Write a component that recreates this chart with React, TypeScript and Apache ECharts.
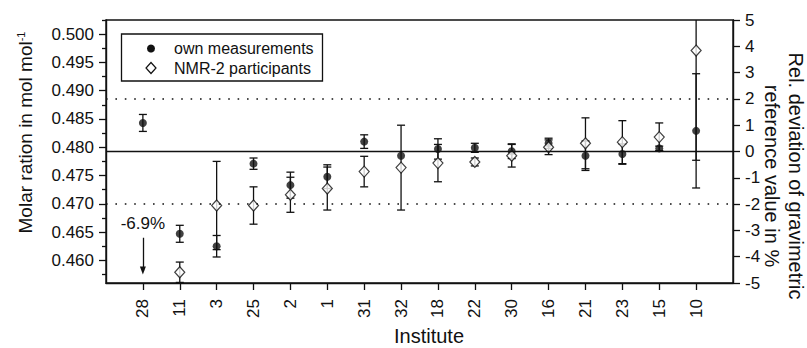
import React, { useEffect, useRef } from 'react';
import * as echarts from 'echarts';

// ---- data ----
const institutes = ['28', '11', '3', '25', '2', '1', '31', '32', '18', '22', '30', '16', '21', '23', '15', '10'];
const ownValues = [0.4843, 0.4647, 0.4625, 0.4771, 0.4733, 0.4748, 0.4810, 0.4785, 0.4797, 0.4799, 0.4793, 0.4807, 0.4785, 0.4788, 0.4798, 0.4829];
const ownUnc = [0.0015, 0.0015, 0.0019, 0.0010, 0.0023, 0.0021, 0.0012, null, 0.0018, 0.0008, 0.0013, 0.0009, 0.0026, 0.0018, 0.0004, 0.0101];
const nmrValues = [null, 0.4579, 0.4697, 0.4697, 0.4716, 0.4727, 0.4757, 0.4764, 0.4772, 0.4774, 0.4785, 0.4800, 0.4807, 0.4809, 0.4818, 0.4971];
const nmrUnc = [null, 0.0018, 0.0078, 0.0033, 0.0031, 0.0038, 0.0027, 0.0075, 0.0033, 0.0007, 0.0020, 0.0013, 0.0045, 0.0038, 0.0025, 0.0194];
const leftTickLabels = ['0.460', '0.465', '0.470', '0.475', '0.480', '0.485', '0.490', '0.495', '0.500'];
const leftMinorTicks = ['0.4575', '0.4625', '0.4675', '0.4725', '0.4775', '0.4825', '0.4875', '0.4925', '0.4975', '0.5025'];
const rightTickLabels = ['-5', '-4', '-3', '-2', '-1', '0', '1', '2', '3', '4', '5'];
const limitLines = [2, -2];
const offScaleLabel = '-6.9%';
const offScaleIndex = 0;
const offScaleArrow = [0.4640, 0.4582];

const FONT = '"Liberation Sans", Arial, Helvetica, sans-serif';
const INK = '#111';

const positions = institutes.map((_, i) => i + 1);
const leftMin = 0.456;
const leftMax = 0.5025;

const errData = (vals: (number | null)[], unc: (number | null)[]) =>
  vals
    .map((v, i) => (v != null && unc[i] != null ? [i + 1, v, unc[i]] : null))
    .filter((d) => d != null);

const renderErr = (params: any, api: any) => {
  const x = api.value(0);
  const y = api.value(1);
  const e = api.value(2);
  const hi = api.coord([x, y + e]);
  const lo = api.coord([x, y - e]);
  const cs = params.coordSys;
  const top = cs.y;
  const bottom = cs.y + cs.height;
  const cx = hi[0];
  const yT = Math.max(hi[1], top);
  const yB = Math.min(lo[1], bottom);
  const style = { stroke: INK, lineWidth: 1.3 };
  const children: any[] = [
    { type: 'line', shape: { x1: cx, y1: yT, x2: cx, y2: yB }, style },
  ];
  const cw = 4;
  if (hi[1] >= top) children.push({ type: 'line', shape: { x1: cx - cw, y1: hi[1], x2: cx + cw, y2: hi[1] }, style });
  if (lo[1] <= bottom) children.push({ type: 'line', shape: { x1: cx - cw, y1: lo[1], x2: cx + cw, y2: lo[1] }, style });
  return { type: 'group', children };
};

const axisLineStyle = { color: INK, width: 1.4 };
const labelStyle = { color: INK, fontSize: 17, fontFamily: FONT };

const option: any = {
  animation: false,
  backgroundColor: '#fff',
  grid: { left: 106, right: 74, top: 20, bottom: 65, show: true, borderColor: INK, borderWidth: 1.4 },
  xAxis: {
    type: 'value',
    min: 0,
    max: 17,
    axisLine: { show: true, onZero: false, lineStyle: axisLineStyle },
    axisTick: { show: true, length: 7, customValues: positions, lineStyle: { color: INK, width: 1.3 } },
    axisLabel: {
      ...labelStyle,
      customValues: positions,
      rotate: 90,
      margin: 16,
      formatter: (v: number) => institutes[Math.round(v) - 1] ?? '',
    },
    splitLine: { show: false },
  },
  yAxis: [
    {
      type: 'value',
      min: leftMin,
      max: leftMax,
      position: 'left',
      axisLine: { show: true, onZero: false, lineStyle: axisLineStyle },
      axisTick: { show: true, length: 7, customValues: leftTickLabels.map(Number), lineStyle: { color: INK, width: 1.3 } },
      axisLabel: { ...labelStyle, customValues: leftTickLabels.map(Number), margin: 12, formatter: (v: number) => v.toFixed(3) },
      splitLine: { show: false },
    },
    {
      type: 'value',
      min: -5,
      max: 5,
      interval: 1,
      position: 'right',
      axisLine: { show: true, onZero: false, lineStyle: axisLineStyle },
      axisTick: { show: true, length: 7, customValues: rightTickLabels.map(Number), lineStyle: { color: INK, width: 1.3 } },
      axisLabel: { ...labelStyle, customValues: rightTickLabels.map(Number), margin: 12 },
      splitLine: { show: false },
    },
    {
      type: 'value',
      min: leftMin,
      max: leftMax,
      position: 'left',
      axisLine: { show: false },
      axisTick: { show: true, length: 4, customValues: leftMinorTicks.map(Number), lineStyle: { color: INK, width: 1.3 } },
      axisLabel: { show: false },
      splitLine: { show: false },
    },
  ],
  series: [
    {
      type: 'line',
      name: 'reference',
      yAxisIndex: 1,
      data: [[0, 0], [17, 0]],
      symbol: 'none',
      silent: true,
      lineStyle: { color: INK, width: 1.5 },
      markLine: {
        silent: true,
        symbol: 'none',
        label: { show: false },
        lineStyle: { type: [1.6, 7.8], color: INK, width: 1.6 },
        data: limitLines.map((v) => ({ yAxis: v })),
      },
    },
    {
      type: 'custom',
      name: 'own err',
      yAxisIndex: 0,
      renderItem: renderErr,
      data: errData(ownValues, ownUnc),
      silent: true,
    },
    {
      type: 'custom',
      name: 'nmr err',
      yAxisIndex: 0,
      renderItem: renderErr,
      data: errData(nmrValues, nmrUnc),
      silent: true,
    },
    {
      type: 'scatter',
      name: 'own measurements',
      yAxisIndex: 0,
      symbol: 'circle',
      symbolSize: 8,
      itemStyle: { color: INK },
      data: ownValues.map((v, i) => [i + 1, v]),
    },
    {
      type: 'scatter',
      name: 'NMR-2 participants',
      yAxisIndex: 0,
      symbol: 'diamond',
      symbolSize: [10, 11],
      itemStyle: { color: '#fff', borderColor: INK, borderWidth: 1.2 },
      data: nmrValues.map((v, i) => (v == null ? null : [i + 1, v])).filter((d) => d != null),
      markLine: {
        silent: true,
        symbol: ['none', 'triangle'],
        symbolSize: [6, 8],
        itemStyle: { color: INK, borderColor: INK },
        lineStyle: { type: 'solid', color: INK, width: 1.3 },
        label: { show: true, position: 'start', formatter: offScaleLabel, ...labelStyle, distance: 6 },
        data: [[{ coord: [offScaleIndex + 1, offScaleArrow[0]] }, { coord: [offScaleIndex + 1, offScaleArrow[1]] }]],
      },
    },
  ],
  graphic: [
    { type: 'rect', shape: { x: 121.5, y: 34, width: 201, height: 47 }, style: { fill: '#fff', stroke: INK, lineWidth: 1.3 }, z: 100 },
    { type: 'circle', shape: { cx: 151, cy: 48.5, r: 4 }, style: { fill: INK }, z: 101 },
    { type: 'polygon', shape: { points: [[151, 62.5], [156, 68], [151, 73.5], [146, 68]] }, style: { fill: '#fff', stroke: INK, lineWidth: 1.2 }, z: 101 },
    { type: 'text', x: 174, y: 48.5, style: { text: 'own measurements', fill: INK, fontSize: 16, fontFamily: FONT, verticalAlign: 'middle' }, z: 101 },
    { type: 'text', x: 174, y: 68, style: { text: 'NMR-2 participants', fill: INK, fontSize: 16, fontFamily: FONT, verticalAlign: 'middle' }, z: 101 },
    {
      type: 'text',
      x: 25,
      y: 132.5,
      rotation: Math.PI / 2,
      style: {
        text: '{a|Molar ration in mol mol}{s|-1}',
        align: 'center',
        verticalAlign: 'middle',
        fill: INK,
        rich: {
          a: { fontSize: 19, fontFamily: FONT, fill: INK },
          s: { fontSize: 11, fontFamily: FONT, fill: INK, padding: [0, 0, 9, 0] },
        },
      },
    },
    {
      type: 'text',
      x: 784,
      y: 176,
      rotation: -Math.PI / 2,
      style: {
        text: 'Rel. deviation of gravimetric\nreference value in %',
        align: 'center',
        verticalAlign: 'middle',
        fill: INK,
        fontSize: 20,
        lineHeight: 24,
        fontFamily: FONT,
      },
    },
    {
      type: 'text',
      x: 429,
      y: 336,
      style: { text: 'Institute', align: 'center', verticalAlign: 'middle', fill: INK, fontSize: 20, fontFamily: FONT },
    },
  ],
};

export default function App() {
  const ref = useRef<HTMLDivElement>(null);
  useEffect(() => {
    const chart = echarts.init(ref.current!, null, { renderer: 'svg' });
    chart.setOption(option);
    return () => chart.dispose();
  }, []);
  return <div ref={ref} style={{ position: 'fixed', left: 0, top: 0, width: 807, height: 348 }} />;
}
